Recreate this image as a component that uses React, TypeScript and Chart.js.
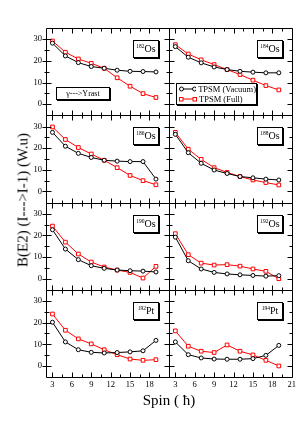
import React, { useEffect, useRef } from "react";
import { Chart, registerables } from "chart.js";
Chart.register(...registerables);

const spins = [3, 5, 7, 9, 11, 13, 15, 17, 19];
const panelMass = ["182", "184", "186", "188", "190", "192", "192", "194"];
const panelElement = ["Os", "Os", "Os", "Os", "Os", "Os", "Pt", "Pt"];
const xTicksLeft = [3, 6, 9, 12, 15, 18];
const xTicksRight = [3, 6, 9, 12, 15, 18, 21];
const xMinor = [4.5, 7.5, 10.5, 13.5, 16.5, 19.5];
const yTicks = [0, 10, 20, 30];
const yMinor = [5, 15, 25];

const os182Vacuum = [28.2, 22.3, 19.2, 17.4, 16.6, 15.7, 15.2, 15.1, 14.9];
const os182Full = [29.2, 24.0, 20.9, 18.9, 16.6, 12.2, 8.3, 4.9, 3.1];
const os184Vacuum = [26.6, 21.7, 19.1, 17.2, 16.0, 15.2, 14.8, 14.5, 14.5];
const os184Full = [27.5, 23.2, 20.5, 18.3, 16.0, 13.7, 11.1, 8.6, 6.6];
const os186Vacuum = [27.3, 20.9, 17.6, 15.7, 14.4, 14.0, 13.8, 13.8, 5.7];
const os186Full = [29.8, 24.0, 20.3, 17.3, 14.4, 11.0, 7.4, 5.0, 3.1];
const os188Vacuum = [26.4, 17.9, 13.0, 9.9, 8.3, 6.9, 6.3, 5.7, 5.3];
const os188Full = [27.3, 19.5, 14.8, 11.0, 8.8, 6.9, 5.3, 4.1, 3.0];
const os190Vacuum = [22.6, 13.7, 8.8, 6.0, 4.8, 4.0, 3.7, 3.5, 3.1];
const os190Full = [24.3, 16.9, 11.4, 7.7, 5.4, 4.0, 2.9, 0.3, 5.7];
const os192Vacuum = [19.2, 8.3, 4.5, 2.9, 2.2, 1.8, 1.5, 1.2, 1.4];
const os192Full = [20.8, 11.1, 7.2, 6.3, 6.5, 5.8, 4.5, 3.4, 0.0];
const pt192Vacuum = [20.2, 11.1, 7.5, 6.3, 6.0, 6.2, 6.5, 7.0, 11.8];
const pt192Full = [24.0, 16.5, 12.5, 10.2, 7.5, 5.2, 3.2, 2.6, 2.9];
const pt194Vacuum = [11.1, 5.2, 3.7, 3.2, 3.1, 3.1, 3.4, 4.9, 9.5];
const pt194Full = [16.2, 9.1, 6.8, 6.2, 9.7, 6.8, 5.1, 2.6, 0.0];

const vacuumSeries = [os182Vacuum, os184Vacuum, os186Vacuum, os188Vacuum, os190Vacuum, os192Vacuum, pt192Vacuum, pt194Vacuum];
const fullSeries = [os182Full, os184Full, os186Full, os188Full, os190Full, os192Full, pt192Full, pt194Full];

const W = 299;
const H = 423;
const AREA_LEFT = 46;
const AREA_TOP = 28;
const AREA_RIGHT = 295;
const AREA_BOTTOM = 377;
const FONT = "'Liberation Serif', 'Times New Roman', serif";
const Y_MIN = -5.1;
const Y_MAX = 35.2;

const framePlugin = {
  id: "panelFrames",
  afterDatasetsDraw(chart: any) {
    const ctx = chart.ctx;
    ctx.save();
    ctx.strokeStyle = "#000";
    ctx.lineWidth = 1;
    for (let col = 0; col < 2; col++) {
      const xs = chart.scales["x" + (col + 1)];
      for (let row = 0; row < 4; row++) {
        const ys = chart.scales["y" + (row + 1)];
        const l = Math.round(xs.left) + 0.5;
        const r = Math.round(xs.right) + 0.5;
        const t = Math.round(ys.top) + 0.5;
        const b = Math.round(ys.bottom) + 0.5;
        ctx.beginPath();
        ctx.rect(l, t, r - l, b - t);
        ctx.stroke();
        const xt = col === 0 ? xTicksLeft.concat([21]) : xTicksRight;
        const drawX = (v: number, len: number) => {
          const px = Math.round(xs.getPixelForValue(v)) + 0.5;
          if (px < l || px > r) return;
          ctx.beginPath();
          ctx.moveTo(px, b);
          ctx.lineTo(px, b - len);
          ctx.moveTo(px, t);
          ctx.lineTo(px, t + len);
          ctx.stroke();
        };
        xt.forEach((v) => drawX(v, 5));
        xMinor.forEach((v) => drawX(v, 3));
        const drawY = (v: number, len: number) => {
          const py = Math.round(ys.getPixelForValue(v)) + 0.5;
          ctx.beginPath();
          ctx.moveTo(l, py);
          ctx.lineTo(l + len, py);
          ctx.moveTo(r, py);
          ctx.lineTo(r - len, py);
          if (col === 0) {
            ctx.moveTo(l, py);
            ctx.lineTo(l - len + 1, py);
          }
          ctx.stroke();
        };
        yTicks.forEach((v) => drawY(v, 5));
        yMinor.forEach((v) => drawY(v, 3));
      }
    }
    ctx.restore();
  },
};

function IsoLabel({ mass, el, left, top }: { mass: string; el: string; left: number; top: number }) {
  return (
    <div
      style={{
        position: "absolute",
        left,
        top,
        width: 24,
        height: 16,
        border: "1px solid #000",
        boxShadow: "1px 1px 0 #000",
        background: "#fff",
        display: "flex",
        alignItems: "center",
        justifyContent: "center",
        fontFamily: FONT,
        fontSize: 10,
        lineHeight: "10px",
        color: "#000",
      }}
    >
      <span style={{ fontSize: 5.5, position: "relative", top: -3 }}>{mass}</span>
      <span>{el}</span>
    </div>
  );
}

function LegendRow({ color, square, label }: { color: string; square: boolean; label: string }) {
  return (
    <div style={{ display: "flex", alignItems: "center", height: 10 }}>
      <svg width={18} height={8} style={{ marginRight: 2 }}>
        <line x1={2} y1={4} x2={16} y2={4} stroke={color} strokeWidth={1} />
        {square ? (
          <>
            <rect x={0.5} y={2.5} width={3.5} height={3.5} fill="#fff" stroke={color} strokeWidth={1} />
            <rect x={14} y={2.5} width={3.5} height={3.5} fill="#fff" stroke={color} strokeWidth={1} />
          </>
        ) : (
          <>
            <circle cx={2.5} cy={4} r={2} fill="#fff" stroke={color} strokeWidth={1} />
            <circle cx={15.5} cy={4} r={2} fill="#fff" stroke={color} strokeWidth={1} />
          </>
        )}
      </svg>
      <span>{label}</span>
    </div>
  );
}

export default function App() {
  const canvasRef = useRef<HTMLCanvasElement | null>(null);

  useEffect(() => {
    const canvas = canvasRef.current;
    if (!canvas) return;
    const datasets: any[] = [];
    for (let i = 0; i < 8; i++) {
      const col = (i % 2) + 1;
      const row = Math.floor(i / 2) + 1;
      datasets.push({
        label: "TPSM (Vacuum) " + panelMass[i] + panelElement[i],
        data: spins.map((s, k) => ({ x: s, y: vacuumSeries[i][k] })),
        xAxisID: "x" + col,
        yAxisID: "y" + row,
        borderColor: "#000",
        backgroundColor: "#fff",
        borderWidth: 1,
        pointStyle: "circle",
        pointRadius: 2,
        pointBorderWidth: 1,
        pointBackgroundColor: "#fff",
        pointBorderColor: "#000",
        tension: 0,
      });
      datasets.push({
        label: "TPSM (Full) " + panelMass[i] + panelElement[i],
        data: spins.map((s, k) => ({ x: s, y: fullSeries[i][k] })),
        xAxisID: "x" + col,
        yAxisID: "y" + row,
        borderColor: "#ff0000",
        backgroundColor: "#fff",
        borderWidth: 1,
        pointStyle: "rect",
        pointRadius: 2.6,
        pointBorderWidth: 1,
        pointBackgroundColor: "#fff",
        pointBorderColor: "#ff0000",
        tension: 0,
      });
    }

    const tickFont = { family: FONT, size: 8.5 };
    const scales: any = {};
    [1, 2].forEach((c) => {
      const tickVals = c === 1 ? xTicksLeft : xTicksRight;
      scales["x" + c] = {
        type: "linear",
        position: "bottom",
        stack: "cols",
        stackWeight: 1,
        weight: c - 1,
        min: 2,
        max: 21,
        afterBuildTicks: (s: any) => {
          s.ticks = tickVals.map((v) => ({ value: v }));
        },
        afterFit: (s: any) => {
          s.height = H - AREA_BOTTOM;
        },
        ticks: { font: tickFont, color: "#000", padding: 3, maxRotation: 0, autoSkip: false },
        grid: { display: false, drawTicks: false },
        border: { display: false },
      };
    });
    [1, 2, 3, 4].forEach((r) => {
      scales["y" + r] = {
        type: "linear",
        position: "left",
        stack: "rows",
        stackWeight: 1,
        weight: 5 - r,
        min: Y_MIN,
        max: Y_MAX,
        afterBuildTicks: (s: any) => {
          s.ticks = yTicks.map((v) => ({ value: v }));
        },
        afterFit: (s: any) => {
          s.width = AREA_LEFT;
        },
        ticks: { font: tickFont, color: "#000", padding: 4, autoSkip: false },
        grid: { display: false, drawTicks: false },
        border: { display: false },
      };
    });

    const chart = new Chart(canvas, {
      type: "line",
      data: { datasets },
      options: {
        animation: false,
        responsive: false,
        devicePixelRatio: 1,
        layout: { padding: { top: AREA_TOP, right: W - AREA_RIGHT, left: 0, bottom: 0 } },
        plugins: { legend: { display: false }, tooltip: { enabled: false }, title: { display: false } },
        scales,
      },
      plugins: [framePlugin],
    } as any);
    return () => chart.destroy();
  }, []);

  const colRights = [AREA_LEFT + (AREA_RIGHT - AREA_LEFT) / 2, AREA_RIGHT];
  const rowH = (AREA_BOTTOM - AREA_TOP) / 4;

  return (
    <div style={{ position: "absolute", left: 0, top: 0, width: W, height: H, background: "#fff", overflow: "hidden" }}>
      <canvas ref={canvasRef} width={W} height={H} style={{ position: "absolute", left: 0, top: 0, width: W, height: H }} />
      {panelMass.map((m, i) => {
        const col = i % 2;
        const row = Math.floor(i / 2);
        return (
          <IsoLabel
            key={i}
            mass={m}
            el={panelElement[i]}
            left={Math.round(colRights[col] - 13 - 25)}
            top={Math.round(AREA_TOP + row * rowH + 12)}
          />
        );
      })}
      <div
        style={{
          position: "absolute",
          left: 56,
          top: 87,
          width: 52,
          height: 11,
          border: "1px solid #000",
          boxShadow: "1px 1px 0 #000",
          background: "#fff",
          fontFamily: FONT,
          fontSize: 8,
          lineHeight: "11px",
          textAlign: "center",
          color: "#000",
        }}
      >
        γ---&gt;Yrast
      </div>
      <div
        style={{
          position: "absolute",
          left: 176,
          top: 83,
          width: 81,
          height: 22,
          border: "1px solid #000",
          boxShadow: "1px 1px 0 #000",
          background: "#fff",
          fontFamily: FONT,
          fontSize: 8.5,
          color: "#000",
          paddingLeft: 2,
          boxSizing: "border-box",
          display: "flex",
          flexDirection: "column",
          justifyContent: "center",
          whiteSpace: "nowrap",
        }}
      >
        <LegendRow color="#000" square={false} label="TPSM (Vacuum)" />
        <LegendRow color="#ff0000" square={true} label="TPSM (Full)" />
      </div>
      <div
        style={{
          position: "absolute",
          left: 169,
          top: 400,
          transform: "translate(-50%, -50%)",
          fontFamily: FONT,
          fontSize: 15,
          whiteSpace: "nowrap",
          color: "#000",
        }}
      >
        Spin ( ħ)
      </div>
      <div
        style={{
          position: "absolute",
          left: 23,
          top: 200,
          transform: "translate(-50%, -50%) rotate(-90deg)",
          fontFamily: FONT,
          fontSize: 15,
          whiteSpace: "nowrap",
          color: "#000",
        }}
      >
        B(E2) (I---&gt;I-1) (W.u)
      </div>
    </div>
  );
}
